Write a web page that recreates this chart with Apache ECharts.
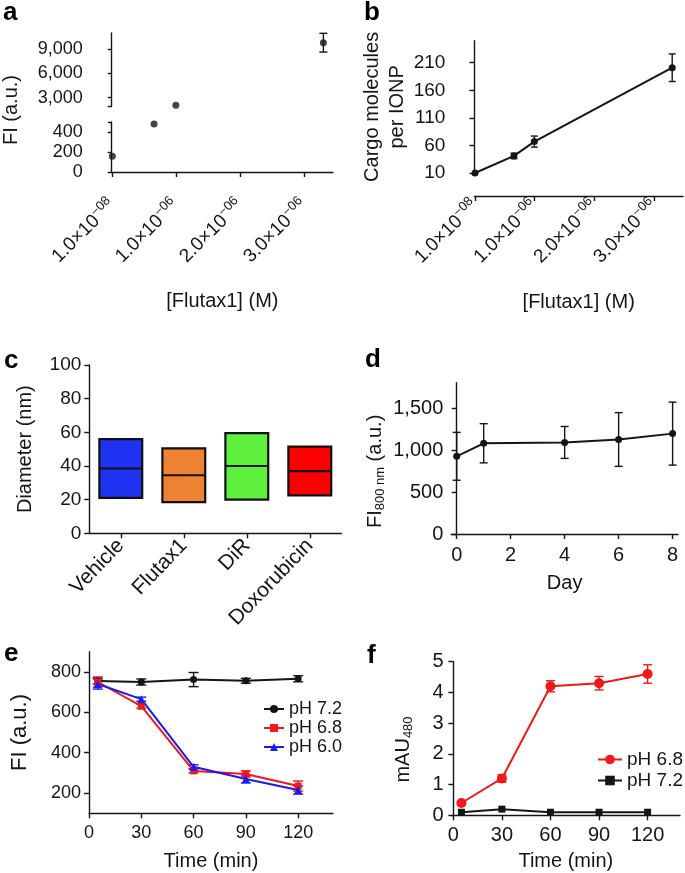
<!DOCTYPE html>
<html><head><meta charset="utf-8">
<script src="https://cdn.jsdelivr.net/npm/echarts@6/dist/echarts.min.js"></script>
<style>html,body{margin:0;padding:0;background:#fff}#c{width:685px;height:873px}</style>
</head><body><div id="c"></div>
<script>
// ---------------- data ----------------
// panel a : FI vs [Flutax1] (M)
const aConc = [1e-8, 0.66e-6, 1e-6, 3.3e-6];
const aFI = [157, 480, 2050, 9800];
const aFIErr = [0, 0, 0, 1160];
const concTickValues = [1e-8, 1e-6, 2e-6, 3e-6];
const concTickMantissa = ['1.0', '1.0', '2.0', '3.0'];
const concTickExponent = ['\u221208', '\u221206', '\u221206', '\u221206'];
const aUpperTicks = [3000, 6000, 9000];
const aLowerTicks = [0, 200, 400];
const aBreakLow = 500, aBreakHigh = 1900;
// panel b : cargo molecules per IONP
const bConc = [1e-8, 0.66e-6, 1e-6, 3.3e-6];
const bCargo = [10, 41, 67, 201];
const bCargoErr = [0, 5, 10, 25];
const bTicks = [10, 60, 110, 160, 210];
// panel c : diameter boxes
const cCategories = ['Vehicle', 'Flutax1', 'DiR', 'Doxorubicin'];
const cLow = [21, 18.5, 20, 22.5];
const cMedian = [38.5, 34.5, 40, 37];
const cHigh = [56, 50.5, 59.5, 51.5];
// panel d : FI800nm vs day
const dDay = [0, 1, 4, 6, 8];
const dFI = [925, 1080, 1090, 1125, 1195];
const dErr = [285, 233, 190, 320, 375];
const dXTicks = [0, 2, 4, 6, 8];
const dYTicks = [0, 500, 1000, 1500];
// panel e : FI vs time
const eTime = [5, 30, 60, 90, 120];
const eFI72 = [755, 750, 762, 756, 766];
const eErr72 = [15, 15, 35, 12, 15];
const eFI68 = [750, 630, 310, 295, 235];
const eErr68 = [25, 10, 10, 15, 25];
const eFI60 = [740, 665, 330, 270, 215];
const eErr60 = [25, 10, 10, 20, 20];
const timeTicks = [0, 30, 60, 90, 120];
const eYTicks = [200, 400, 600, 800];
// panel f : mAU480 vs time
const fTime = [5, 30, 60, 90, 120];
const fAU68 = [0.4, 1.2, 4.2, 4.3, 4.6];
const fErr68 = [0.05, 0.12, 0.18, 0.22, 0.3];
const fAU72 = [0.1, 0.2, 0.1, 0.1, 0.1];
const fErr72 = [0.02, 0.02, 0.02, 0.02, 0.02];
const fYTicks = [0, 1, 2, 3, 4, 5];

// ---------------- styling helpers ----------------
const FONT = 'Liberation Sans, Arial, Helvetica, sans-serif';
const TXT = '#151515';
const cColors = ['#1f33f2', '#ef8232', '#5ef03c', '#ff0000'];
const RED = '#f01818', BLUE = '#1a1aee';

const comma = v => String(v).replace(/\B(?=(\d{3})+(?!\d))/g, ',');
const axLine = { show: true, lineStyle: { color: TXT, width: 1.4 } };
const tick = (vals, len) => ({ show: true, length: len || 5, inside: false, lineStyle: { color: TXT, width: 1.4 }, customValues: vals });
const lab = (vals, size, extra) => Object.assign({ show: true, color: TXT, fontSize: size, fontFamily: FONT, margin: 8, customValues: vals }, extra || {});
const nameStyle = (size, extra) => Object.assign({ color: TXT, fontSize: size, fontFamily: FONT }, extra || {});

function concLabel(v) {
  const i = concTickValues.findIndex(t => Math.abs(t - v) < 1e-10);
  if (i < 0) return '';
  return '{m|' + concTickMantissa[i] + '\u00d710}{e|' + concTickExponent[i] + '}';
}
const concRich = {
  m: { fontSize: 19, fontFamily: FONT, color: TXT },
  e: { fontSize: 13, fontFamily: FONT, color: TXT, padding: [0, 0, 11, 0] }
};
const subRich = { s: { fontSize: 13, fontFamily: FONT, color: TXT, padding: [10, 0, 0, 0] } };

function errData(xs, ys, es) { return xs.map((x, i) => [x, ys[i] - es[i], ys[i] + es[i]]); }
function errBar(cap, color, lw) {
  return function (params, api) {
    const x = api.value(0), lo = api.value(1), hi = api.value(2);
    const a = api.coord([x, lo]), b = api.coord([x, hi]);
    const st = { stroke: color, lineWidth: lw || 1.4 };
    return { type: 'group', children: [
      { type: 'line', shape: { x1: a[0], y1: a[1], x2: b[0], y2: b[1] }, style: st },
      { type: 'line', shape: { x1: a[0] - cap, y1: a[1], x2: a[0] + cap, y2: a[1] }, style: st },
      { type: 'line', shape: { x1: b[0] - cap, y1: b[1], x2: b[0] + cap, y2: b[1] }, style: st }
    ] };
  };
}
function errSeries(xi, data, cap, color) {
  return { type: 'custom', xAxisIndex: xi, yAxisIndex: xi, data: data, encode: { x: 0, y: [1, 2] },
    renderItem: errBar(cap, color), silent: true, z: 2 };
}
const zip = (xs, ys) => xs.map((x, i) => [x, ys[i]]);

// panel a split across the axis break
const aPts = zip(aConc, aFI);
const aUpper = aPts.filter(p => p[1] >= aBreakHigh);
const aLower = aPts.filter(p => p[1] <= aBreakLow);
const aErrUpper = errData(aConc, aFI, aFIErr).filter((d, i) => aFIErr[i] > 0 && aFI[i] >= aBreakHigh);

const letter = (t, x, y) => ({ type: 'text', left: x, top: y, style: { text: t, fontSize: 26, fontWeight: 'bold', fontFamily: FONT, fill: '#000' } });

const option = {
  animation: false,
  backgroundColor: '#fff',
  textStyle: { fontFamily: FONT, color: TXT },
  grid: [
    { left: 111.7, top: 33, width: 221.3, height: 73.5 },   // a upper
    { left: 111.7, top: 122, width: 221.3, height: 50 },    // a lower
    { left: 474.4, top: 40.7, width: 208.6, height: 132.3 },// b
    { left: 89.3, top: 365, width: 252, height: 168.3 },    // c
    { left: 451.3, top: 382.8, width: 226.7, height: 151.2 },// d
    { left: 89, top: 651.7, width: 244, height: 161.6 },    // e
    { left: 451.7, top: 661.7, width: 228.3, height: 153.6 } // f
  ],
  xAxis: [
    { gridIndex: 0, type: 'value', min: 0, max: 3.45e-6, show: false },
    { gridIndex: 1, type: 'value', min: 0, max: 3.45e-6, offset: 23.5, splitLine: { show: false },
      axisLine: axLine, axisTick: tick(concTickValues),
      axisLabel: lab(concTickValues, 19, { rotate: 45, formatter: concLabel, rich: concRich, margin: 7 }),
      name: '[Flutax1] (M)', nameLocation: 'middle', nameGap: 96, nameTextStyle: nameStyle(20) },
    { gridIndex: 2, type: 'value', min: 0, max: 3.48e-6, offset: 23, splitLine: { show: false },
      axisLine: axLine, axisTick: tick(concTickValues),
      axisLabel: lab(concTickValues, 19, { rotate: 45, formatter: concLabel, rich: concRich, margin: 7 }),
      name: '[Flutax1] (M)', nameLocation: 'middle', nameGap: 96, nameTextStyle: nameStyle(20) },
    { gridIndex: 3, type: 'category', data: cCategories, boundaryGap: true,
      axisLine: axLine, axisTick: { show: true, alignWithLabel: true, length: 5, lineStyle: { color: TXT, width: 1.4 } },
      axisLabel: { color: TXT, fontSize: 21, fontFamily: FONT, rotate: 46, margin: 9, interval: 0 } },
    { gridIndex: 4, type: 'value', min: -0.2, max: 8.2, splitLine: { show: false },
      axisLine: axLine, axisTick: tick(dXTicks), axisLabel: lab(dXTicks, 20, { margin: 11 }),
      name: 'Day', nameLocation: 'middle', nameGap: 39, nameTextStyle: nameStyle(20) },
    { gridIndex: 5, type: 'value', min: 0, max: 140, splitLine: { show: false },
      axisLine: axLine, axisTick: tick(timeTicks), axisLabel: lab(timeTicks, 18, { margin: 11 }),
      name: 'Time (min)', nameLocation: 'middle', nameGap: 38.5, nameTextStyle: nameStyle(20) },
    { gridIndex: 6, type: 'value', min: -1, max: 140, splitLine: { show: false },
      axisLine: axLine, axisTick: tick(timeTicks), axisLabel: lab(timeTicks, 20, { margin: 10 }),
      name: 'Time (min)', nameLocation: 'middle', nameGap: 36.5, nameTextStyle: nameStyle(20) }
  ],
  yAxis: [
    { gridIndex: 0, type: 'value', min: aBreakHigh, max: 11000, offset: 21, splitLine: { show: false },
      axisLine: axLine, axisTick: tick([aBreakHigh].concat(aUpperTicks), 4),
      axisLabel: lab(aUpperTicks, 18, { formatter: comma }) },
    { gridIndex: 1, type: 'value', min: 0, max: aBreakLow, offset: 21, splitLine: { show: false },
      axisLine: axLine, axisTick: tick(aLowerTicks.concat([aBreakLow]), 4),
      axisLabel: lab(aLowerTicks, 18) },
    { gridIndex: 2, type: 'value', min: 10, max: 250, offset: 21, splitLine: { show: false },
      axisLine: axLine, axisTick: tick(bTicks), axisLabel: lab(bTicks, 19),
      name: 'Cargo molecules\nper IONP', nameLocation: 'middle', nameGap: 42,
      nameTextStyle: nameStyle(20, { lineHeight: 25 }) },
    { gridIndex: 3, type: 'value', min: 0, max: 100, interval: 20, splitLine: { show: false },
      axisLine: axLine, axisTick: { show: true, length: 5, lineStyle: { color: TXT, width: 1.4 } },
      axisLabel: { color: TXT, fontSize: 19, fontFamily: FONT, margin: 8 },
      name: 'Diameter (nm)', nameLocation: 'middle', nameGap: 54, nameTextStyle: nameStyle(20) },
    { gridIndex: 4, type: 'value', min: 0, max: 1800, splitLine: { show: false },
      axisLine: axLine, axisTick: tick(dYTicks), axisLabel: lab(dYTicks, 20, { formatter: comma }),
      name: 'FI{s|800 nm} (a.u.)', nameLocation: 'middle', nameGap: 64,
      nameTextStyle: nameStyle(20, { rich: subRich, padding: [0, 26, 0, 0] }) },
    { gridIndex: 5, type: 'value', min: 100, max: 900, splitLine: { show: false },
      axisLine: axLine, axisTick: tick(eYTicks), axisLabel: lab(eYTicks, 18),
      name: 'FI (a.u.)', nameLocation: 'middle', nameGap: 58.5, nameTextStyle: nameStyle(22) },
    { gridIndex: 6, type: 'value', min: 0, max: 5, splitLine: { show: false },
      axisLine: axLine, axisTick: tick(fYTicks), axisLabel: lab(fYTicks, 20),
      name: 'mAU{s|480}', nameLocation: 'middle', nameGap: 37,
      nameTextStyle: nameStyle(20, { rich: subRich, padding: [0, 22, 0, 0] }) }
  ],
  legend: [
    { data: ['pH 7.2', 'pH 6.8', 'pH 6.0'], orient: 'vertical', left: 263, top: 700, padding: 0,
      itemWidth: 20, itemHeight: 10, itemGap: 1, selectedMode: false,
      textStyle: { color: TXT, fontSize: 18, fontFamily: FONT } },
    { data: ['pH 6.8 ', 'pH 7.2 '], orient: 'vertical', left: 597, top: 750, padding: 0,
      itemWidth: 24, itemHeight: 12, itemGap: 2, selectedMode: false,
      textStyle: { color: TXT, fontSize: 19, fontFamily: FONT } }
  ],
  graphic: [
    letter('a', 3, 0), letter('b', 364, 0), letter('c', 4, 348),
    letter('d', 365, 347), letter('e', 4, 641), letter('f', 367, 643),
    { type: 'text', x: 11, y: 110, rotation: Math.PI / 2,
      style: { text: 'FI (a.u.)', fontSize: 20, fontFamily: FONT, fill: TXT, align: 'center', verticalAlign: 'middle' } }
  ],
  series: [
    // a
    { type: 'scatter', xAxisIndex: 1, yAxisIndex: 1, data: aLower, symbol: 'circle', symbolSize: 7, itemStyle: { color: TXT }, z: 3 },
    { type: 'scatter', xAxisIndex: 0, yAxisIndex: 0, data: aUpper, symbol: 'circle', symbolSize: 7, itemStyle: { color: TXT }, z: 3 },
    errSeries(0, aErrUpper, 4, TXT),
    // b
    { type: 'line', xAxisIndex: 2, yAxisIndex: 2, data: zip(bConc, bCargo), symbol: 'circle', symbolSize: 7,
      itemStyle: { color: TXT }, lineStyle: { color: TXT, width: 2 }, z: 3 },
    errSeries(2, errData(bConc, bCargo, bCargoErr).filter((d, i) => bCargoErr[i] > 0), 3.5, TXT),
    // c
    { type: 'custom', xAxisIndex: 3, yAxisIndex: 3, silent: true,
      data: cCategories.map((c, i) => [i, cLow[i], cMedian[i], cHigh[i]]), encode: { x: 0, y: [1, 2, 3] },
      renderItem: function (params, api) {
        const i = api.value(0);
        const lo = api.coord([i, api.value(1)]), md = api.coord([i, api.value(2)]), hi = api.coord([i, api.value(3)]);
        const w = api.size([1, 0])[0] * 0.68;
        return { type: 'group', children: [
          { type: 'rect', shape: { x: hi[0] - w / 2, y: hi[1], width: w, height: lo[1] - hi[1] },
            style: { fill: cColors[i], stroke: '#111', lineWidth: 2.2 } },
          { type: 'line', shape: { x1: md[0] - w / 2, y1: md[1], x2: md[0] + w / 2, y2: md[1] },
            style: { stroke: '#111', lineWidth: 2.2 } }
        ] };
      } },
    // d
    { type: 'line', xAxisIndex: 4, yAxisIndex: 4, data: zip(dDay, dFI), symbol: 'circle', symbolSize: 7,
      itemStyle: { color: TXT }, lineStyle: { color: TXT, width: 2 }, z: 3 },
    errSeries(4, errData(dDay, dFI, dErr), 4, TXT),
    // e
    errSeries(5, errData(eTime, eFI72, eErr72), 5, TXT),
    errSeries(5, errData(eTime, eFI68, eErr68), 5, RED),
    errSeries(5, errData(eTime, eFI60, eErr60), 5, BLUE),
    { name: 'pH 7.2', type: 'line', xAxisIndex: 5, yAxisIndex: 5, data: zip(eTime, eFI72), symbol: 'circle', symbolSize: 7,
      itemStyle: { color: TXT }, lineStyle: { color: TXT, width: 2 }, z: 3 },
    { name: 'pH 6.8', type: 'line', xAxisIndex: 5, yAxisIndex: 5, data: zip(eTime, eFI68), symbol: 'rect', symbolSize: 7,
      itemStyle: { color: RED }, lineStyle: { color: RED, width: 2 }, z: 3 },
    { name: 'pH 6.0', type: 'line', xAxisIndex: 5, yAxisIndex: 5, data: zip(eTime, eFI60), symbol: 'triangle', symbolSize: 8,
      itemStyle: { color: BLUE }, lineStyle: { color: BLUE, width: 2 }, z: 3 },
    // f
    errSeries(6, errData(fTime, fAU68, fErr68), 4.5, RED),
    { name: 'pH 7.2 ', type: 'line', xAxisIndex: 6, yAxisIndex: 6, data: zip(fTime, fAU72), symbol: 'rect', symbolSize: 7,
      itemStyle: { color: TXT }, lineStyle: { color: TXT, width: 2 }, z: 3 },
    { name: 'pH 6.8 ', type: 'line', xAxisIndex: 6, yAxisIndex: 6, data: zip(fTime, fAU68), symbol: 'circle', symbolSize: 10,
      itemStyle: { color: RED }, lineStyle: { color: RED, width: 2 }, z: 3 }
  ]
};
const chart = echarts.init(document.getElementById('c'), null, { renderer: 'canvas' });
chart.setOption(option);
</script></body></html>
